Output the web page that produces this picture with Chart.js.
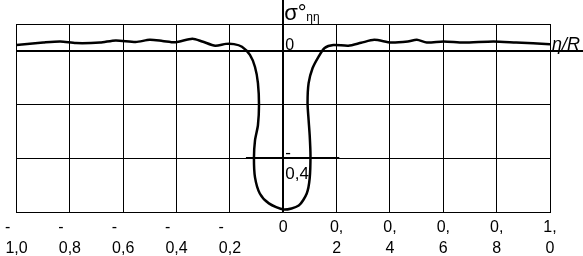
<!DOCTYPE html>
<html>
<head>
<meta charset="utf-8">
<script src="https://cdn.jsdelivr.net/npm/chart.js@4/dist/chart.umd.min.js"></script>
<style>
  html,body{margin:0;padding:0;background:#fff;}
  #wrap{width:583px;height:256px;}
</style>
</head>
<body>
<div id="wrap"><canvas id="stressChart" width="583" height="256"></canvas></div>
<script>
// -------- DATA ----------
// eta/R along the curve (curve turns back on itself, so it is x/y pairs)
const etaValues = [
  -1.0, -0.9, -0.836, -0.777, -0.687, -0.628, -0.553, -0.501, -0.453, -0.404,
  -0.341, -0.304, -0.255, -0.215, -0.185, -0.155, -0.125, -0.106, -0.095, -0.091,
  -0.095, -0.106, -0.110, -0.106, -0.088, -0.054, 0.002, 0.058, 0.088, 0.099,
  0.102, 0.099, 0.095, 0.091, 0.095, 0.110, 0.132, 0.155, 0.188, 0.244,
  0.292, 0.341, 0.404, 0.467, 0.501, 0.538, 0.601, 0.676, 0.788, 0.873, 1.0
];
const sigmaValues = [
  0.022, 0.031, 0.035, 0.029, 0.031, 0.039, 0.033, 0.041, 0.037, 0.032,
  0.045, 0.035, 0.019, 0.026, 0.025, 0.015, -0.015, -0.060, -0.120, -0.202,
  -0.277, -0.333, -0.400, -0.471, -0.531, -0.568, -0.591, -0.576, -0.531, -0.475,
  -0.389, -0.314, -0.258, -0.194, -0.120, -0.064, -0.022, 0.011, 0.022, 0.019,
  0.030, 0.041, 0.031, 0.035, 0.041, 0.031, 0.035, 0.031, 0.035, 0.031, 0.025
];

const xTickValues = [-1.0, -0.8, -0.6, -0.4, -0.2, 0, 0.2, 0.4, 0.6, 0.8, 1.0];
const xTickLabels = [
  ['-    ', '1,0'], ['-    ', '0,8'], ['-    ', '0,6'], ['-    ', '0,4'], ['-    ', '0,2'],
  '0', ['0,', '2'], ['0,', '4'], ['0,', '6'], ['0,', '8'], ['1,', '0']
];
const yTickValues = [-0.6, -0.4, -0.2, 0, 0.1];

const points = etaValues.map((x, i) => ({x, y: sigmaValues[i]}));

// -------- DECORATIONS (center axis, zero line, axis texts) ----------
const axisDecor = {
  id: 'axisDecor',
  beforeDatasetsDraw(chart){
    const {ctx, chartArea, scales:{x, y}} = chart;
    const x0 = Math.round(x.getPixelForValue(0));
    const y0 = Math.round(y.getPixelForValue(0));
    const y4 = Math.round(y.getPixelForValue(-0.4));
    ctx.save();
    ctx.strokeStyle = '#000';
    // vertical sigma axis
    ctx.lineWidth = 2;
    ctx.beginPath(); ctx.moveTo(x0, 0); ctx.lineTo(x0, chartArea.bottom); ctx.stroke();
    // zero line runs out to the eta/R label
    ctx.beginPath(); ctx.moveTo(chartArea.left, y0); ctx.lineTo(chart.width, y0); ctx.stroke();
    // short heavier mark at -0,4
    ctx.beginPath();
    ctx.moveTo(x.getPixelForValue(-0.14), y4);
    ctx.lineTo(x.getPixelForValue(0.21), y4);
    ctx.stroke();
    ctx.restore();
  },
  afterDraw(chart){
    const {ctx, scales:{x, y}} = chart;
    const x0 = x.getPixelForValue(0);
    const y0 = y.getPixelForValue(0);
    const y4 = y.getPixelForValue(-0.4);
    ctx.save();
    ctx.fillStyle = '#000';
    ctx.textAlign = 'left';
    ctx.textBaseline = 'alphabetic';
    ctx.font = '16px "Liberation Sans", Arial, sans-serif';
    ctx.fillText('0', x0 + 2, y0 - 1);
    ctx.font = '17px "Liberation Sans", Arial, sans-serif';
    ctx.fillText('-', x0 + 2, y4);
    ctx.fillText('0,4', x0 + 2, y4 + 21);
    // axis titles
    ctx.font = '22px "Liberation Sans", Arial, sans-serif';
    ctx.fillText('σ°', x0 + 1, 20);
    ctx.font = '12px "Liberation Sans", Arial, sans-serif';
    ctx.fillText('ηη', x0 + 23, 21);
    ctx.font = 'italic 18px "Liberation Sans", Arial, sans-serif';
    ctx.fillText('η/R', chart.chartArea.right + 2, y0 - 1);
    ctx.restore();
  }
};

// -------- CHART ----------
new Chart(document.getElementById('stressChart').getContext('2d'), {
  type: 'scatter',
  data: {
    datasets: [{
      data: points,
      showLine: true,
      borderColor: '#000',
      borderWidth: 2.5,
      pointRadius: 0,
      tension: 0.25,
      fill: false
    }]
  },
  options: {
    responsive: false,
    animation: false,
    events: [],
    layout: {autoPadding: false, padding: {left: 13, right: 33, top: 24, bottom: 0}},
    plugins: {legend: {display: false}, tooltip: {enabled: false}},
    scales: {
      x: {
        type: 'linear', min: -1, max: 1,
        afterBuildTicks: s => { s.ticks = xTickValues.map(v => ({value: v})); },
        afterFit: s => { s.height = 44; },
        grid: {color: '#000', lineWidth: 1, drawTicks: false},
        border: {color: '#000', width: 1},
        ticks: {
          color: '#000', padding: 5, maxRotation: 0, autoSkip: false,
          font: {family: '"Liberation Sans", Arial, sans-serif', size: 16, lineHeight: 1.3},
          callback: (v, i) => xTickLabels[i]
        }
      },
      y: {
        type: 'linear', min: -0.6, max: 0.1,
        afterBuildTicks: s => { s.ticks = yTickValues.map(v => ({value: v})); },
        afterFit: s => { s.width = 0; },
        grid: {color: '#000', lineWidth: 1, drawTicks: false},
        border: {color: '#000', width: 1},
        ticks: {display: false}
      }
    }
  },
  plugins: [axisDecor]
});
</script>
</body>
</html>
